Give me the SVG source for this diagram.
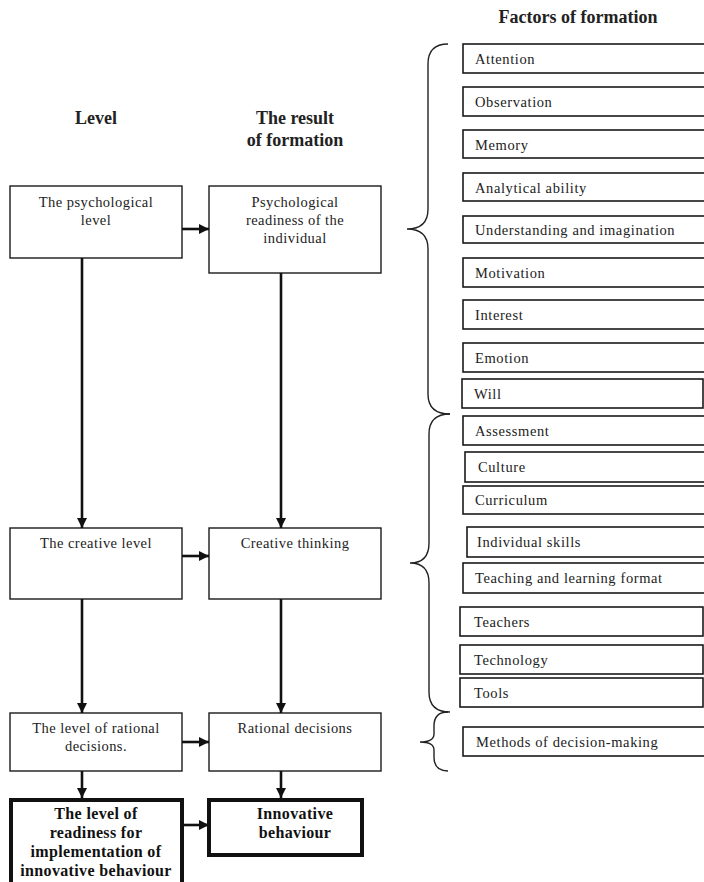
<svg xmlns="http://www.w3.org/2000/svg" width="704" height="882" viewBox="0 0 704 882">
<defs>
<style>
.box{fill:#fff;stroke:#1a1a1a;stroke-width:1.4}
.bold{fill:#fff;stroke:#111;stroke-width:4}
.t{font-family:"Liberation Serif","Times New Roman",serif;font-size:14.5px;fill:#222;letter-spacing:0.45px}
.c{text-anchor:middle}
.tb{font-family:"Liberation Serif","Times New Roman",serif;font-size:16px;font-weight:bold;fill:#111;text-anchor:middle;letter-spacing:0.35px}
.h{font-family:"Liberation Serif","Times New Roman",serif;font-size:18px;font-weight:bold;fill:#222;text-anchor:middle}
.f{fill:#fff;stroke:#1a1a1a;stroke-width:1.6}
.ft{font-family:"Liberation Serif","Times New Roman",serif;font-size:14.5px;fill:#222;letter-spacing:0.6px}
.arr{fill:none;stroke:#111;stroke-width:2.6;marker-end:url(#ah)}
.br{fill:none;stroke:#222;stroke-width:1.4}
</style>
<marker id="ah" markerUnits="userSpaceOnUse" markerWidth="10" markerHeight="10" refX="10" refY="5" orient="auto">
<path d="M0,0 L10,5 L0,10 z" fill="#111"/>
</marker>
</defs>
<rect width="704" height="882" fill="#fff"/>

<g id="headers">
<text class="h" x="96" y="124">Level</text>
<text class="h" x="295" y="124">The result</text>
<text class="h" x="295" y="146">of formation</text>
<text class="h" x="578" y="23">Factors of formation</text>
</g>

<g id="n-psych-level">
<rect class="box" x="10" y="186" width="172" height="72"/>
<text class="t c" x="96" y="207">The psychological</text>
<text class="t c" x="96" y="225">level</text>
</g>
<g id="n-psych-readiness">
<rect class="box" x="209" y="186" width="172" height="87"/>
<text class="t c" x="295" y="207">Psychological</text>
<text class="t c" x="295" y="225">readiness of the</text>
<text class="t c" x="295" y="243">individual</text>
</g>
<g id="n-creative-level">
<rect class="box" x="10" y="528" width="172" height="71"/>
<text class="t c" x="96" y="548">The creative level</text>
</g>
<g id="n-creative-thinking">
<rect class="box" x="209" y="528" width="172" height="71"/>
<text class="t c" x="295" y="548">Creative thinking</text>
</g>
<g id="n-rational-level">
<rect class="box" x="10" y="713" width="172" height="58"/>
<text class="t c" x="96" y="733">The level of rational</text>
<text class="t c" x="96" y="751">decisions.</text>
</g>
<g id="n-rational-decisions">
<rect class="box" x="209" y="713" width="172" height="58"/>
<text class="t c" x="295" y="733">Rational decisions</text>
</g>
<g id="n-readiness-level">
<rect class="bold" x="11" y="800" width="171" height="90"/>
<text class="tb" x="96" y="819">The level of</text>
<text class="tb" x="96" y="838">readiness for</text>
<text class="tb" x="96" y="857">implementation of</text>
<text class="tb" x="96" y="876">innovative behaviour</text>
</g>
<g id="n-innovative-behaviour">
<rect class="bold" x="209" y="800" width="153" height="55"/>
<text class="tb" x="295" y="819">Innovative</text>
<text class="tb" x="295" y="838">behaviour</text>
</g>

<g id="factors">
<g id="f-attention"><rect class="f" x="463" y="44" width="245" height="29"/><text class="ft" x="475" y="64">Attention</text></g>
<g id="f-observation"><rect class="f" x="463" y="87" width="245" height="29"/><text class="ft" x="475" y="107">Observation</text></g>
<g id="f-memory"><rect class="f" x="463" y="130" width="245" height="28"/><text class="ft" x="475" y="150">Memory</text></g>
<g id="f-analytical"><rect class="f" x="463" y="173" width="245" height="28"/><text class="ft" x="475" y="193">Analytical ability</text></g>
<g id="f-understanding"><rect class="f" x="463" y="216" width="245" height="27"/><text class="ft" x="475" y="235">Understanding and imagination</text></g>
<g id="f-motivation"><rect class="f" x="463" y="258" width="245" height="29"/><text class="ft" x="475" y="278">Motivation</text></g>
<g id="f-interest"><rect class="f" x="463" y="300" width="245" height="29"/><text class="ft" x="475" y="320">Interest</text></g>
<g id="f-emotion"><rect class="f" x="463" y="343" width="245" height="29"/><text class="ft" x="475" y="363">Emotion</text></g>
<g id="f-will"><rect class="f" x="462" y="379" width="241" height="29"/><text class="ft" x="474" y="399">Will</text></g>
<g id="f-assessment"><rect class="f" x="463" y="416" width="245" height="29"/><text class="ft" x="475" y="436">Assessment</text></g>
<g id="f-culture"><rect class="f" x="465" y="452" width="243" height="30"/><text class="ft" x="478" y="472">Culture</text></g>
<g id="f-curriculum"><rect class="f" x="463" y="486" width="245" height="28"/><text class="ft" x="475" y="505">Curriculum</text></g>
<g id="f-individual"><rect class="f" x="467" y="527" width="241" height="30"/><text class="ft" x="477" y="547">Individual skills</text></g>
<g id="f-teaching"><rect class="f" x="463" y="563" width="245" height="30"/><text class="ft" x="475" y="583">Teaching and learning format</text></g>
<g id="f-teachers"><rect class="f" x="460" y="607" width="243" height="29"/><text class="ft" x="474" y="627">Teachers</text></g>
<g id="f-technology"><rect class="f" x="460" y="645" width="243" height="29"/><text class="ft" x="474" y="665">Technology</text></g>
<g id="f-tools"><rect class="f" x="460" y="678" width="243" height="29"/><text class="ft" x="474" y="698">Tools</text></g>
<g id="f-methods"><rect class="f" x="463" y="727" width="245" height="29"/><text class="ft" x="476" y="747">Methods of decision-making</text></g>
</g>

<g id="braces">
<path class="br" d="M448,44 Q428,44 428,64 L428,209 Q428,229 407,229 Q428,229 428,249 L428,394 Q428,414 450,414"/>
<path class="br" d="M450,414 Q429,414 429,434 L429,543 Q429,563 410,563 Q429,563 429,583 L429,692 Q429,712 450,712"/>
<path class="br" d="M448,712 Q434,712 434,726 L434,734 Q434,742 420,742 Q434,742 434,750 L434,757 Q434,771 448,771"/>
</g>

<g id="connectors">
<path class="arr" d="M182,229 H209"/>
<path class="arr" d="M182,556 H209"/>
<path class="arr" d="M182,742 H209"/>
<path class="arr" d="M182,825 H209"/>
<path class="arr" d="M82,258 V528"/>
<path class="arr" d="M281,273 V528"/>
<path class="arr" d="M82,599 V713"/>
<path class="arr" d="M281,599 V713"/>
<path class="arr" d="M82,771 V798"/>
<path class="arr" d="M281,771 V798"/>
</g>
</svg>
